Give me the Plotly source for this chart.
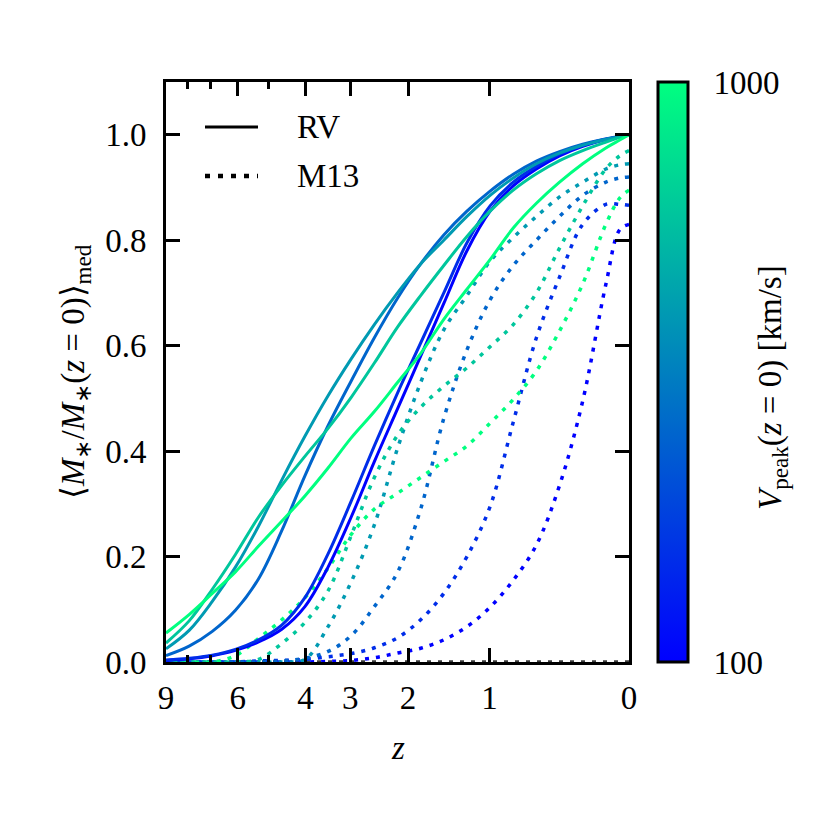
import numpy as np
import plotly.graph_objects as go

# sample positions: log10(1 + z), evenly spaced along the x axis
U = [0.0, 0.02, 0.05, 0.10, 0.15, 0.20, 0.25, 0.30, 0.35, 0.40, 0.45, 0.50, 0.55,
     0.60, 0.65, 0.70, 0.75, 0.80, 0.85, 0.90, 0.95, 1.00]

VPEAK = [100, 150, 250, 400, 600, 1000]

# RV model (solid)
RV_100 = [1.0, 0.996, 0.991, 0.978, 0.96, 0.935, 0.903, 0.855, 0.78, 0.68, 0.58, 0.48, 0.38,
          0.275, 0.18, 0.105, 0.062, 0.038, 0.022, 0.012, 0.006, 0.003]
RV_150 = [1.0, 0.996, 0.992, 0.98, 0.963, 0.94, 0.91, 0.865, 0.795, 0.70, 0.605, 0.51, 0.41,
          0.305, 0.205, 0.122, 0.07, 0.042, 0.024, 0.013, 0.007, 0.004]
RV_250 = [1.0, 0.997, 0.992, 0.982, 0.968, 0.95, 0.925, 0.893, 0.855, 0.81, 0.755, 0.69, 0.615,
          0.533, 0.448, 0.353, 0.249, 0.158, 0.098, 0.058, 0.03, 0.012]
RV_400 = [1.0, 0.996, 0.991, 0.98, 0.965, 0.945, 0.918, 0.885, 0.845, 0.80, 0.755, 0.70, 0.64,
          0.575, 0.505, 0.428, 0.345, 0.258, 0.18, 0.115, 0.06, 0.025]
RV_600 = [1.0, 0.995, 0.986, 0.97, 0.951, 0.926, 0.895, 0.855, 0.807, 0.752, 0.695, 0.635, 0.567,
          0.502, 0.443, 0.39, 0.335, 0.275, 0.204, 0.138, 0.078, 0.036]
RV_1000 = [1.0, 0.99, 0.975, 0.945, 0.91, 0.87, 0.823, 0.763, 0.707, 0.65, 0.585, 0.53, 0.475,
           0.425, 0.368, 0.315, 0.267, 0.22, 0.171, 0.13, 0.09, 0.055]

# M13 model (dotted)
M13_100 = [0.83, 0.82, 0.716, 0.495, 0.335, 0.222, 0.155, 0.104, 0.067, 0.042, 0.026, 0.017, 0.008,
           0.003, 0.001, 0.0, 0.0, 0.0, 0.0, 0.0, 0.0, 0.0]
M13_150 = [0.866, 0.868, 0.868, 0.83, 0.73, 0.615, 0.455, 0.295, 0.2, 0.13, 0.08, 0.046, 0.027,
           0.016, 0.01, 0.005, 0.003, 0.002, 0.0, 0.0, 0.0, 0.0]
M13_250 = [0.92, 0.918, 0.91, 0.885, 0.845, 0.80, 0.752, 0.687, 0.592, 0.462, 0.29, 0.17, 0.105,
           0.05, 0.02, 0.007, 0.002, 0.0, 0.0, 0.0, 0.0, 0.0]
M13_400 = [0.945, 0.943, 0.935, 0.91, 0.882, 0.845, 0.805, 0.76, 0.695, 0.63, 0.53, 0.405, 0.26,
           0.152, 0.067, 0.005, 0.0, 0.0, 0.0, 0.0, 0.0, 0.0]
M13_600 = [0.97, 0.96, 0.935, 0.865, 0.785, 0.70, 0.64, 0.598, 0.558, 0.523, 0.483, 0.43, 0.35,
           0.24, 0.135, 0.075, 0.035, 0.005, 0.0, 0.0, 0.0, 0.0]
M13_1000 = [0.895, 0.88, 0.83, 0.717, 0.628, 0.552, 0.498, 0.453, 0.41, 0.38, 0.35, 0.32, 0.29,
            0.242, 0.178, 0.122, 0.08, 0.045, 0.012, 0.0, 0.0, 0.0]

# faint black dotted baseline visible just above the bottom spine
BASELINE_U = [0.0, 1.0]
BASELINE_Y = [0.0, 0.0]

RV = [RV_100, RV_150, RV_250, RV_400, RV_600, RV_1000]
M13 = [M13_100, M13_150, M13_250, M13_400, M13_600, M13_1000]

X_TICK_Z = [0, 1, 2, 3, 4, 6, 9]
X_MINOR_Z = [5, 7, 8]
Y_TICKS = [0.0, 0.2, 0.4, 0.6, 0.8, 1.0]
CB_LABELS = [100, 1000]
CB_MINOR = [200, 300, 400, 500, 600, 700, 800, 900]


def winter(v):
    t = (np.log10(v) - 2.0)
    return "rgb(0,%d,%d)" % (round(255 * t), round(255 * (1 - t / 2)))


FONT = "Liberation Serif"
FS = 33
DOT = "4px,7px"

# plot area in screen pixels (page has an 8px body margin)
PX0, PX1, PY0, PY1 = 166, 629, 82, 662
PW, PH = PX1 - PX0, PY1 - PY0
OFF = 8

fig = go.Figure()
xz = [10 ** u for u in U]   # 1 + z

fig.add_trace(go.Scatter(x=[10 ** u for u in BASELINE_U], y=BASELINE_Y, mode="lines", showlegend=False,
                         line=dict(color="rgb(60,60,60)", width=3.5, dash=DOT)))
for v, ys in zip(VPEAK, M13):
    fig.add_trace(go.Scatter(x=xz, y=ys, mode="lines", showlegend=False,
                             line=dict(color=winter(v), width=3.5, dash=DOT, shape="spline", smoothing=1.0)))
for v, ys in zip(VPEAK, RV):
    fig.add_trace(go.Scatter(x=xz, y=ys, mode="lines", showlegend=False,
                             line=dict(color=winter(v), width=3, shape="spline", smoothing=1.0)))

CB_X0 = (658 - PX0) / PW
CB_T = 30
# colorbar carrier
fig.add_trace(go.Scatter(
    x=[2], y=[-1], mode="markers", showlegend=False, hoverinfo="skip",
    marker=dict(size=1, opacity=0, color=[2.5], cmin=2, cmax=3,
                colorscale=[[0, "rgb(0,0,255)"], [1, "rgb(0,255,128)"]],
                showscale=True,
                colorbar=dict(
                    x=CB_X0, xanchor="left", xpad=0, ypad=0,
                    y=0.5, yanchor="middle", len=1, lenmode="fraction",
                    thickness=CB_T, thicknessmode="pixels",
                    outlinewidth=3, outlinecolor="black",
                    tickmode="array", tickvals=[float(np.log10(t)) for t in CB_LABELS],
                    ticktext=[str(t) for t in CB_LABELS],
                    ticks="outside", ticklen=18, tickwidth=1, tickcolor="rgba(0,0,0,0)",
                    tickfont=dict(family=FONT, size=FS, color="black"),
                ))))

# colorbar minor ticks (inward, from the right edge)
cb_right = CB_X0 + CB_T / PW
for v in CB_MINOR:
    yy = float(np.log10(v)) - 2.0
    fig.add_shape(type="line", xref="paper", yref="paper", x0=cb_right - 15 / PW, x1=cb_right,
                  y0=yy, y1=yy, line=dict(color="black", width=3))

axis_common = dict(showline=True, linewidth=3, linecolor="black", mirror="ticks",
                   ticks="inside", ticklen=14, tickwidth=3, tickcolor="black",
                   showgrid=False, zeroline=False,
                   tickfont=dict(family=FONT, size=FS, color="black"))

fig.update_xaxes(type="log", range=[1, 0],
                 tickmode="array", tickvals=[1 + z for z in X_TICK_Z],
                 ticktext=[str(z) for z in X_TICK_Z],
                 minor=dict(tickmode="array", tickvals=[1 + z for z in X_MINOR_Z],
                            ticks="inside", ticklen=7, tickwidth=3, tickcolor="black", showgrid=False),
                 ticklabelstandoff=4, **axis_common)
fig.update_yaxes(range=[0, 1.1], tickmode="array", tickvals=Y_TICKS,
                 ticktext=["%.1f" % t for t in Y_TICKS], ticklabelstandoff=10, **axis_common)

# legend (manual)
lx0, lx1 = (205 - PX0) / PW, (258 - PX0) / PW
ly_rv, ly_m = (PY1 - 127) / PH, (PY1 - 176) / PH
fig.add_shape(type="line", xref="paper", yref="paper", x0=lx0, x1=lx1, y0=ly_rv, y1=ly_rv,
              line=dict(color="black", width=3))
fig.add_shape(type="line", xref="paper", yref="paper", x0=lx0, x1=lx1, y0=ly_m, y1=ly_m,
              line=dict(color="black", width=4.5, dash="5px,8px"))
tfont = dict(family=FONT, size=FS, color="black")
fig.add_annotation(xref="paper", yref="paper", x=(295 - PX0) / PW, y=ly_rv, text="RV",
                   showarrow=False, xanchor="left", yanchor="middle", font=tfont)
fig.add_annotation(xref="paper", yref="paper", x=(295 - PX0) / PW, y=ly_m, text="M13",
                   showarrow=False, xanchor="left", yanchor="middle", font=tfont)

# axis titles
fig.add_annotation(xref="paper", yref="paper", x=(398 - PX0) / PW, y=(PY1 - 748) / PH,
                   text="<i>z</i>", showarrow=False, xanchor="center", yanchor="middle", font=tfont)
fig.add_annotation(xref="paper", yref="paper", x=(75 - PX0) / PW, y=0.5, textangle=-90,
                   text="⟨<i>M</i><sub>∗</sub>/<i>M</i><sub>∗</sub>(<i>z</i> = 0)⟩<sub>med</sub>",
                   showarrow=False, xanchor="center", yanchor="middle", font=tfont)
fig.add_annotation(xref="paper", yref="paper", x=(772 - PX0) / PW, y=(PY1 - 388) / PH, textangle=-90,
                   text="<i>V</i><sub>peak</sub>(<i>z</i> = 0) [km/s]",
                   showarrow=False, xanchor="center", yanchor="middle", font=tfont)

fig.update_layout(width=829, height=829,
                  margin=dict(l=PX0 - OFF, r=829 - PX1 + OFF, t=PY0 - OFF, b=829 - PY1 + OFF),
                  paper_bgcolor="white", plot_bgcolor="white", showlegend=False)

fig.write_html("out.html")
